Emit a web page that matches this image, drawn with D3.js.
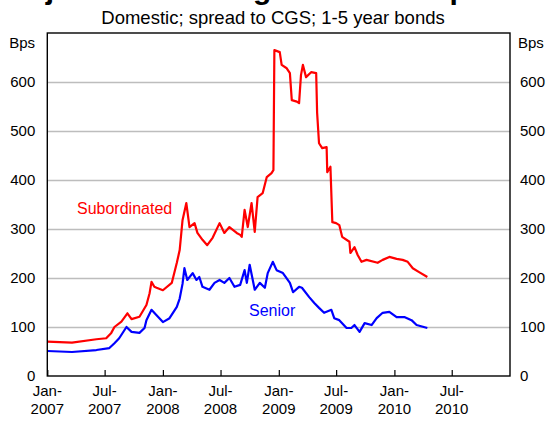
<!DOCTYPE html>
<html><head><meta charset="utf-8">
<script src="https://cdn.jsdelivr.net/npm/d3@7"></script>
<style>body{margin:0;background:#fff}svg{display:block;font-family:Arial,"Liberation Sans",sans-serif}</style>
</head><body><svg id="c" width="553" height="424"></svg>
<script>
const titleText = "Major Banks' Long-term Debt Spreads";
const subtitleText = "Domestic; spread to CGS; 1-5 year bonds";
const unitLabel = "Bps";
const yTicks = [0,100,200,300,400,500,600];
const xTickDates = ["2007-01-01","2007-07-01","2008-01-01","2008-07-01","2009-01-01","2009-07-01","2010-01-01","2010-07-01"];
const xTickLabels = [["Jan-","2007"],["Jul-","2007"],["Jan-","2008"],["Jul-","2008"],["Jan-","2009"],["Jul-","2009"],["Jan-","2010"],["Jul-","2010"]];
const seriesNames = ["Subordinated","Senior"];

const subDates = ["2007-01-01","2007-03-20","2007-06-05","2007-07-06","2007-07-22","2007-08-01","2007-08-23","2007-09-11","2007-09-24","2007-10-19","2007-11-10","2007-11-20","2007-11-26","2007-12-05","2007-12-12","2008-01-01","2008-01-29","2008-02-14","2008-02-23","2008-03-03","2008-03-15","2008-03-25","2008-04-10","2008-04-19","2008-05-05","2008-05-20","2008-06-06","2008-06-28","2008-07-13","2008-07-29","2008-08-21","2008-09-01","2008-09-06","2008-09-15","2008-09-25","2008-10-07","2008-10-17","2008-10-26","2008-11-11","2008-11-24","2008-12-09","2008-12-15","2008-12-18","2009-01-04","2009-01-10","2009-01-26","2009-02-05","2009-02-11","2009-02-27","2009-03-06","2009-03-12","2009-03-18","2009-03-28","2009-04-13","2009-04-29","2009-05-02","2009-05-08","2009-05-18","2009-06-01","2009-06-03","2009-06-13","2009-06-19","2009-07-01","2009-07-11","2009-07-20","2009-08-12","2009-08-15","2009-08-28","2009-09-07","2009-09-19","2009-10-05","2009-11-09","2009-11-25","2009-12-16","2010-01-08","2010-01-27","2010-02-12","2010-02-28","2010-03-20","2010-04-15"];
const subValues = [70,68,75,77,88,100,111,128,116,121,145,169,192,182,180,175,190,231,257,318,353,304,312,292,278,267,282,312,292,304,292,288,284,339,304,353,294,365,373,406,414,420,665,661,635,628,618,563,560,557,614,635,610,620,618,537,475,465,467,416,427,314,312,308,284,274,251,263,247,233,237,231,237,243,239,237,233,220,212,202];

const senDates = ["2007-01-01","2007-03-20","2007-06-05","2007-07-16","2007-08-01","2007-08-16","2007-09-08","2007-09-24","2007-10-19","2007-11-04","2007-11-10","2007-11-26","2007-12-12","2008-01-01","2008-01-22","2008-02-14","2008-02-23","2008-03-03","2008-03-09","2008-03-18","2008-04-04","2008-04-16","2008-04-25","2008-05-05","2008-05-27","2008-06-12","2008-06-28","2008-07-13","2008-07-29","2008-08-14","2008-09-01","2008-09-15","2008-09-22","2008-10-01","2008-10-17","2008-11-02","2008-11-18","2008-11-27","2008-12-13","2008-12-25","2009-01-14","2009-02-05","2009-02-15","2009-03-06","2009-03-15","2009-04-07","2009-04-23","2009-05-08","2009-05-24","2009-06-16","2009-06-25","2009-07-11","2009-08-03","2009-08-18","2009-08-28","2009-09-13","2009-09-29","2009-10-21","2009-11-06","2009-11-25","2009-12-16","2010-01-08","2010-02-03","2010-02-24","2010-03-12","2010-04-15"];
const senValues = [51,49,53,57,67,77,100,90,88,98,114,135,124,110,118,141,158,188,220,196,210,196,202,182,176,190,196,190,200,182,186,216,190,227,176,190,180,210,233,216,210,190,171,182,180,161,149,139,129,135,118,114,98,98,104,90,108,104,118,129,131,120,120,114,104,98];

const parse = d3.timeParse("%Y-%m-%d");
const svg = d3.select("#c");
const L = 47.3, R = 510, T = 33, B = 376;
const x = d3.scaleTime().domain([parse("2007-01-01"), parse("2011-01-01")]).range([L, R]);
const y = d3.scaleLinear().domain([0, 700]).range([B, T]);

// title (clipped at top, only descenders visible) and subtitle
svg.append("text").attr("x", 276).attr("y", -1).attr("text-anchor","middle")
  .attr("font-size", 30).attr("font-weight","bold").attr("fill","#000").text(titleText);
svg.append("text").attr("x", 273).attr("y", 24).attr("text-anchor","middle")
  .attr("font-size", 18.5).attr("fill","#000").text(subtitleText);

// gridlines
svg.append("g").attr("transform", `translate(${L},0)`)
  .call(d3.axisLeft(y).tickValues(yTicks.filter(v=>v>0)).tickSize(-(R-L)).tickFormat(""))
  .call(g => g.select(".domain").remove())
  .call(g => g.selectAll("line").attr("stroke","#bdbdbd").attr("stroke-width",1.6));

// left / right tick labels
svg.append("g").attr("transform", `translate(${L},0)`)
  .call(d3.axisLeft(y).tickValues(yTicks).tickSize(0).tickPadding(12))
  .call(g => g.select(".domain").remove())
  .call(g => g.selectAll("text").attr("font-size",15).attr("font-family","Arial, 'Liberation Sans', sans-serif").attr("fill","#000"));
svg.append("g").attr("transform", `translate(${R},0)`)
  .call(d3.axisRight(y).tickValues(yTicks).tickSize(0).tickPadding(10))
  .call(g => g.select(".domain").remove())
  .call(g => g.selectAll("text").attr("font-size",15).attr("font-family","Arial, 'Liberation Sans', sans-serif").attr("fill","#000"));
svg.append("text").attr("x", 35).attr("y", 48).attr("text-anchor","end").attr("font-size",15).text(unitLabel);
svg.append("text").attr("x", 518).attr("y", 48).attr("font-size",15).text(unitLabel);

// bottom axis with inward ticks
svg.append("g").attr("transform", `translate(0,${B})`)
  .call(d3.axisBottom(x).tickValues(xTickDates.map(parse)).tickSizeInner(-6).tickSizeOuter(0).tickFormat(""))
  .call(g => g.select(".domain").remove())
  .call(g => g.selectAll("line").attr("stroke","#000").attr("stroke-width",1.2));
xTickDates.forEach((d,i) => {
  const t = svg.append("text").attr("text-anchor","middle").attr("font-size",15);
  t.append("tspan").attr("x", x(parse(d))).attr("y", 396).text(xTickLabels[i][0]);
  t.append("tspan").attr("x", x(parse(d))).attr("y", 414).text(xTickLabels[i][1]);
});

// series
const line = d3.line().x(d => x(d[0])).y(d => y(d[1]));
const subData = subDates.map((d,i) => [parse(d), subValues[i]]);
const senData = senDates.map((d,i) => [parse(d), senValues[i]]);
svg.append("path").datum(senData).attr("d", line).attr("fill","none").attr("stroke","#0000ff").attr("stroke-width",2.2).attr("stroke-linejoin","round");
svg.append("path").datum(subData).attr("d", line).attr("fill","none").attr("stroke","#ff0000").attr("stroke-width",2.2).attr("stroke-linejoin","round");

// plot border
svg.append("rect").attr("x", L).attr("y", T).attr("width", R-L).attr("height", B-T)
  .attr("fill","none").attr("stroke","#000").attr("stroke-width",1.4);

// series labels
svg.append("text").attr("x", 77).attr("y", 214).attr("font-size",16).attr("fill","#ff0000").text(seriesNames[0]);
svg.append("text").attr("x", 249).attr("y", 316).attr("font-size",16).attr("fill","#0000ff").text(seriesNames[1]);
</script></body></html>
